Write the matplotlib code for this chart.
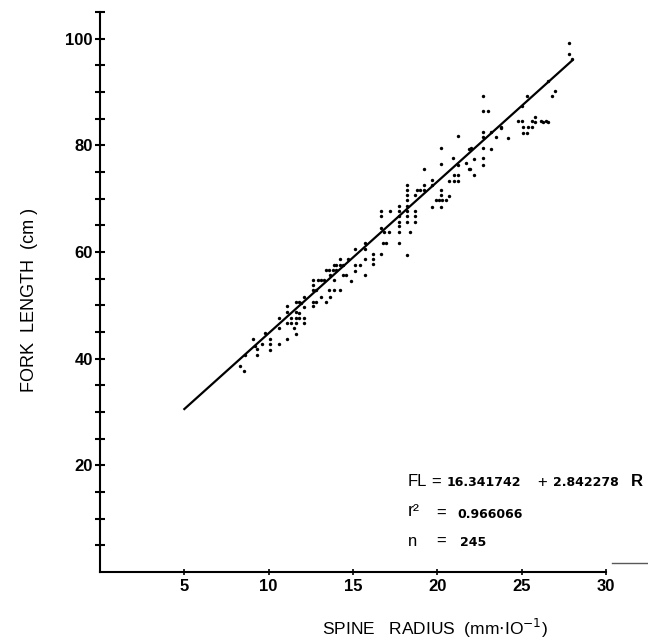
import matplotlib
matplotlib.use('Agg')
import matplotlib.pyplot as plt
from matplotlib.lines import Line2D
import numpy as np

# spine radius (mm x 10^-1) and fork length (cm)
radius = [8.3, 8.55, 8.6, 9.1, 9.3, 9.3, 9.6, 9.8, 10.1, 10.1, 10.1, 10.6, 10.6, 10.6,
          11.1, 11.1, 11.1, 11.1, 11.3, 11.3, 11.5, 11.6, 11.6, 11.6, 11.6, 11.6, 11.8,
          11.8, 11.8, 12.1, 12.1, 12.1, 12.1, 11.9, 12.6, 12.6, 12.8, 13.4, 12.6, 12.8,
          12.6, 12.6, 12.9, 13.1, 13.3, 13.1, 13.65, 13.6, 13.9, 14.2, 13.65, 13.4, 13.6,
          13.8, 14.0, 13.85, 13.9, 14.0, 14.2, 14.4, 14.2, 14.7, 14.4, 14.6, 14.9, 15.1,
          15.4, 15.1, 15.7, 15.1, 15.7, 15.7, 16.2, 16.2, 16.2, 16.65, 15.7, 16.75, 16.95,
          17.7, 18.2, 16.65, 16.85, 17.15, 16.65, 16.65, 17.2, 17.7, 17.7, 17.7, 17.7,
          17.7, 17.7, 18.2, 18.2, 18.2, 18.2, 18.2, 18.2, 18.2, 18.2, 18.4, 18.7, 18.7,
          18.7, 18.7, 18.8, 19.0, 19.2, 19.2, 19.2, 19.7, 19.7, 19.7, 19.9, 20.1, 20.3,
          20.5, 20.2, 20.2, 20.2, 20.2, 20.7, 20.7, 21.0, 21.25, 21.0, 21.25, 21.2, 21.7,
          21.9, 22.2, 22.7, 21.2, 22.7, 22.7, 23.2, 23.5, 23.8, 24.2, 23.2, 22.7, 22.7,
          22.2, 21.9, 20.9, 20.2, 24.8, 25.0, 25.6, 26.15, 26.45, 25.1, 25.4, 25.6, 25.1,
          25.3, 22.7, 22.7, 23.0, 22.0, 21.95, 25.0, 25.3, 25.8, 25.8, 26.25, 26.55, 26.55,
          26.8, 27.0, 27.8, 27.8, 28.0, 23.8, 9.2]
fork_length = [38.7, 37.7, 40.7, 43.7, 40.7, 41.8, 42.8, 44.8, 43.7, 42.8, 41.7, 42.7, 45.8, 47.6,
               43.7, 46.7, 48.7, 49.8, 46.7, 47.6, 45.8, 44.6, 46.7, 47.6, 48.7, 50.7, 47.6,
               48.6, 50.7, 46.7, 47.6, 49.6, 51.6, 50.5, 49.8, 50.7, 50.7, 50.7, 52.8, 52.8,
               53.8, 54.7, 54.7, 54.7, 54.7, 51.6, 51.6, 52.8, 52.8, 52.8, 55.7, 56.7, 56.7,
               56.7, 56.7, 54.8, 57.6, 57.6, 57.6, 57.6, 58.7, 58.7, 55.7, 55.7, 54.5, 57.6,
               57.6, 56.5, 55.7, 60.5, 60.5, 58.7, 59.7, 58.7, 57.7, 59.7, 61.7, 61.7, 61.7,
               61.7, 59.5, 64.5, 63.7, 63.7, 66.7, 67.6, 67.6, 68.7, 67.6, 66.7, 65.7,
               64.8, 63.7, 68.7, 67.6, 66.7, 65.7, 69.7, 70.7, 71.7, 72.6, 63.7, 67.6, 66.7,
               65.7, 70.7, 71.7, 71.7, 72.6, 71.7, 75.6, 73.5, 72.6, 68.5, 69.7, 69.7, 69.7,
               69.7, 68.5, 71.7, 70.7, 76.5, 70.5, 73.4, 73.4, 73.4, 74.5, 74.5, 76.4, 76.7,
               75.6, 74.5, 76.4, 81.7, 82.5, 81.6, 82.5, 81.6, 83.5, 81.4, 79.4, 79.5, 77.6,
               77.5, 79.4, 77.6, 79.5, 84.5, 84.5, 84.5, 84.5, 84.5, 83.4, 83.4, 83.4, 82.3,
               82.3, 89.3, 86.4, 86.4, 79.5, 75.6, 87.3, 89.2, 85.3, 84.3, 84.3, 84.3, 92.1,
               89.2, 90.2, 99.1, 97.1, 96.1, 83.2, 42.3]

# regression printed on the chart
intercept = 16.341742
slope = 2.842278
fit_range = [5.0, 28.0]

fig = plt.figure(figsize=(6.48, 6.4), dpi=100)
ax = fig.add_axes([100 / 648, 68 / 640, 506 / 648, 560 / 640])

ax.scatter(radius, fork_length, s=6, color='black', linewidths=0, zorder=3)
fit_x = np.array(fit_range)
ax.plot(fit_x, intercept + slope * fit_x, color='black', lw=1.6)

ax.set_xlim(0, 30)
ax.set_ylim(0, 105)
for side in ['top', 'right']:
    ax.spines[side].set_visible(False)
for side in ['left', 'bottom']:
    ax.spines[side].set_linewidth(1.5)

ax.set_xticks([5, 10, 15, 20, 25, 30])
ax.set_yticks(range(5, 106, 5))
ax.set_yticklabels([str(v) if v % 20 == 0 else '' for v in range(5, 106, 5)])
ax.tick_params(axis='y', direction='inout', length=7.5, width=1.5, pad=1.5)
ax.tick_params(axis='x', direction='inout', length=4.5, width=1.2, pad=3)
for lab in ax.get_xticklabels() + ax.get_yticklabels():
    lab.set_fontfamily('Liberation Sans')
    lab.set_fontweight('bold')
    lab.set_fontsize(12)

fig.text(30 / 648, 1 - 300 / 640, 'FORK  LENGTH  (cm )', rotation=90, ha='center', va='center',
         fontsize=13, family='Liberation Sans')
fig.text(435 / 648, 1 - 628 / 640, 'SPINE   RADIUS  (mm$\\cdot$IO$^{-1}$)', ha='center', va='center',
         fontsize=12.5, family='Liberation Sans')

def put(x, y, s, size=12, weight='normal', family='Liberation Sans'):
    fig.text(x / 648, 1 - y / 640, s, ha='left', va='center', fontsize=size,
             fontweight=weight, family=family)

put(408, 482, 'FL')
put(431, 482, '=')
put(447, 483, '16.341742', 9, 'bold', 'DejaVu Sans')
put(537, 482, '+')
put(553, 483, '2.842278', 9, 'bold', 'DejaVu Sans')
put(631, 482, 'R', 12, 'bold')
put(408, 512, 'r²', 13)
put(436, 513, '=')
put(457, 514, '0.966066', 9, 'bold', 'DejaVu Sans')
put(408, 541, 'n')
put(436, 541, '=')
put(460, 542, '245', 9, 'bold', 'DejaVu Sans')

fig.add_artist(Line2D([612 / 648, 1.0], [1 - 563 / 640, 1 - 563 / 640], color='0.35', lw=1))

plt.savefig('out.png', dpi=100)
